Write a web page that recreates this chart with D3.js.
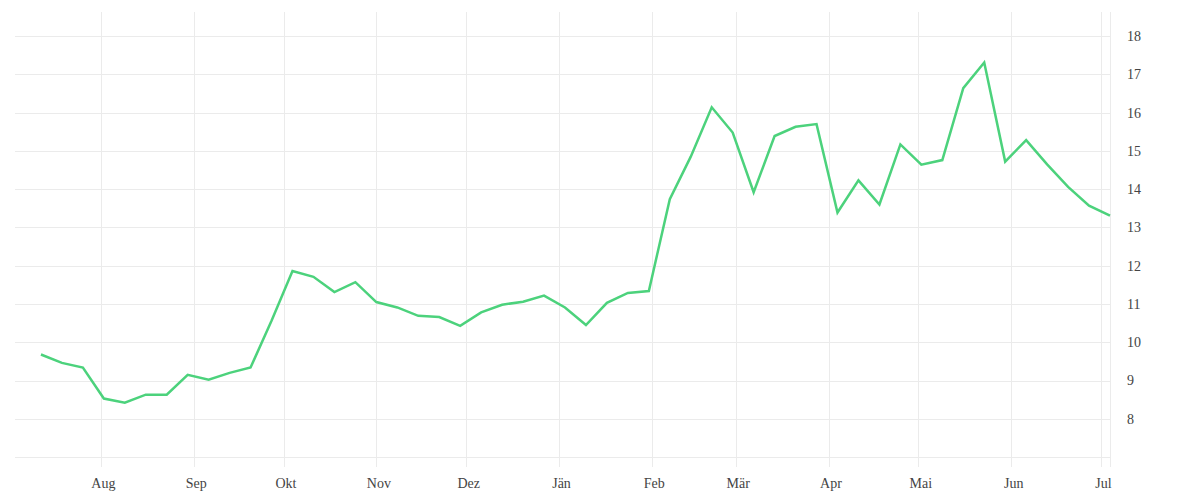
<!DOCTYPE html>
<html>
<head>
<meta charset="utf-8">
<script src="https://cdn.jsdelivr.net/npm/d3@7"></script>
<style>
  body { margin: 0; background: #fff; }
  svg text { font-family: "Liberation Serif", "DejaVu Serif", serif; fill: #444; }
</style>
</head>
<body>
<svg id="chart" width="1200" height="500"></svg>
<script>
// weekly readings
var dates = [
  '2022-07-12', '2022-07-19', '2022-07-26', '2022-08-02', '2022-08-09', '2022-08-16',
  '2022-08-23', '2022-08-30', '2022-09-06', '2022-09-13', '2022-09-20', '2022-09-27',
  '2022-10-04', '2022-10-11', '2022-10-18', '2022-10-25', '2022-11-01', '2022-11-08',
  '2022-11-15', '2022-11-22', '2022-11-29', '2022-12-06', '2022-12-13', '2022-12-20',
  '2022-12-27', '2023-01-03', '2023-01-10', '2023-01-17', '2023-01-24', '2023-01-31',
  '2023-02-07', '2023-02-14', '2023-02-21', '2023-02-28', '2023-03-07', '2023-03-14',
  '2023-03-21', '2023-03-28', '2023-04-04', '2023-04-11', '2023-04-18', '2023-04-25',
  '2023-05-02', '2023-05-09', '2023-05-16', '2023-05-23', '2023-05-30', '2023-06-06',
  '2023-06-13', '2023-06-20', '2023-06-27', '2023-07-04'
];
var values = [
  9.68, 9.46, 9.34, 8.53, 8.42, 8.63, 8.63, 9.15, 9.02, 9.20, 9.34, 10.56,
  11.86, 11.71, 11.31, 11.57, 11.05, 10.91, 10.69, 10.66, 10.43, 10.78, 10.98, 11.06,
  11.22, 10.91, 10.45, 11.03, 11.29, 11.34, 13.74, 14.85, 16.14, 15.48, 13.92, 15.39,
  15.63, 15.70, 13.39, 14.23, 13.60, 15.17, 14.64, 14.76, 16.64, 17.31, 14.72, 15.28,
  14.65, 14.06, 13.57, 13.31
];
var monthTicks = [
  '2022-08-01', '2022-09-01', '2022-10-01', '2022-11-01', '2022-12-01', '2023-01-01',
  '2023-02-01', '2023-03-01', '2023-04-01', '2023-05-01', '2023-06-01', '2023-07-01'
];
var monthLabels = ['Aug', 'Sep', 'Okt', 'Nov', 'Dez', 'Jän', 'Feb', 'Mär', 'Apr', 'Mai', 'Jun', 'Jul'];
var yGridTicks = [7, 8, 9, 10, 11, 12, 13, 14, 15, 16, 17, 18];
var yLabelTicks = [8, 9, 10, 11, 12, 13, 14, 15, 16, 17, 18];

var svg = d3.select('#chart');
var plotLeft = 15, plotRight = 1110, plotTop = 12, plotBottom = 467;
var parse = d3.timeParse('%Y-%m-%d');
var parseFull = d3.timeParse('%Y-%m-%d %H:%M');

var data = dates.map(function(d, i) { return { date: parse(d), value: values[i] }; });

var x = d3.scaleTime()
  .domain([parseFull('2022-07-03 08:00'), parseFull('2023-07-04 00:00')])
  .range([plotLeft, plotRight]);

var y = d3.scaleLinear()
  .domain([6.74, 18.63])
  .range([plotBottom, plotTop]);

var gridColor = '#ebebeb';

// horizontal grid
svg.append('g')
  .selectAll('line')
  .data(yGridTicks)
  .join('line')
  .attr('x1', plotLeft)
  .attr('x2', plotRight)
  .attr('y1', function(d) { return Math.round(y(d)) + 0.5; })
  .attr('y2', function(d) { return Math.round(y(d)) + 0.5; })
  .style('stroke', gridColor)
  .style('stroke-width', 1);

// vertical grid (months) + right border
var monthDates = monthTicks.map(parse);
svg.append('g')
  .selectAll('line')
  .data(monthDates)
  .join('line')
  .attr('x1', function(d) { return Math.round(x(d)) + 0.5; })
  .attr('x2', function(d) { return Math.round(x(d)) + 0.5; })
  .attr('y1', plotTop)
  .attr('y2', plotBottom)
  .style('stroke', gridColor)
  .style('stroke-width', 1);

svg.append('line')
  .attr('x1', plotRight + 0.5)
  .attr('x2', plotRight + 0.5)
  .attr('y1', plotTop)
  .attr('y2', plotBottom)
  .style('stroke', gridColor)
  .style('stroke-width', 1);

// x axis labels
var xAxis = d3.axisBottom(x)
  .tickValues(monthDates)
  .tickSize(0)
  .tickPadding(11)
  .tickFormat(function(d, i) { return monthLabels[i]; });

var gx = svg.append('g')
  .attr('transform', 'translate(0,' + plotBottom + ')')
  .call(xAxis);
gx.select('.domain').remove();
gx.selectAll('text')
  .style('font-size', '14px')
  .attr('dx', 2);

// y axis labels on the right
var yAxis = d3.axisRight(y)
  .tickValues(yLabelTicks)
  .tickSize(0)
  .tickPadding(17);

var gy = svg.append('g')
  .attr('transform', 'translate(' + plotRight + ',0)')
  .call(yAxis);
gy.select('.domain').remove();
gy.selectAll('text')
  .style('font-size', '14px');

// the line
var line = d3.line()
  .x(function(d) { return x(d.date); })
  .y(function(d) { return y(d.value); });

svg.append('path')
  .datum(data)
  .attr('d', line)
  .style('fill', 'none')
  .style('stroke', '#4cd27c')
  .style('stroke-width', 2.5)
  .style('stroke-linejoin', 'miter');
</script>
</body>
</html>
